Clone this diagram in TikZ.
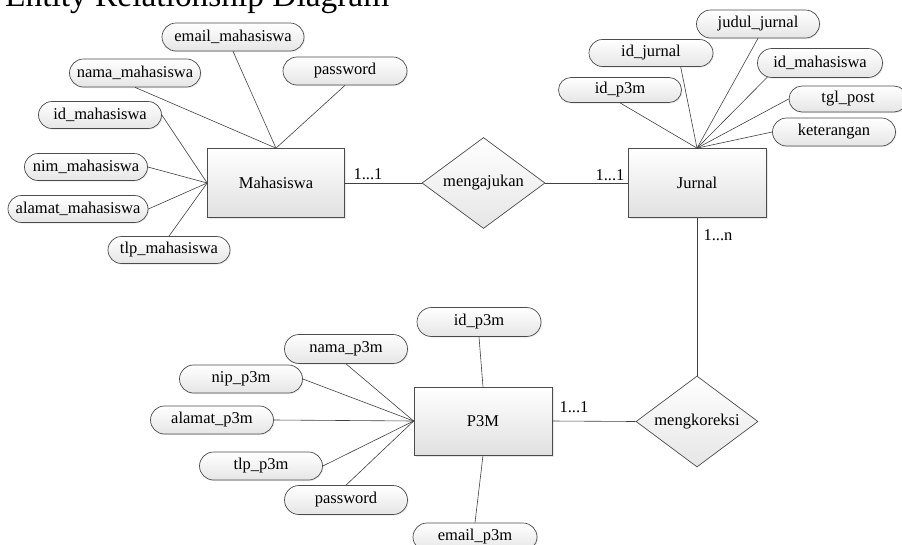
\documentclass[tikz,border=0pt]{standalone}
\usepackage{fontspec}
\setmainfont{Liberation Serif}
\usetikzlibrary{shapes.misc,shapes.geometric,shadows}
\begin{document}
\begin{tikzpicture}[x=1pt,y=-1pt,
  every node/.style={font=\fontsize{16.5}{19}\selectfont, inner sep=0pt},
  attr/.style={rounded rectangle, draw=black!70, line width=0.7pt,
    top color=white, bottom color=black!10,
    drop shadow={shadow xshift=1pt, shadow yshift=-1pt, opacity=0.18},
    minimum width=123pt, minimum height=28pt},
  entity/.style={rectangle, draw=black!70, line width=0.7pt,
    top color=white, bottom color=black!12,
    drop shadow={shadow xshift=1.5pt, shadow yshift=-1.5pt, opacity=0.18},
    minimum width=138pt, minimum height=69pt},
  rel/.style={diamond, draw=black!70, line width=0.7pt, shape aspect=1.35,
    top color=white, bottom color=black!10,
    minimum width=123pt, minimum height=91pt},
  conn/.style={draw=black!75, line width=0.6pt},
  card/.style={anchor=base}
]
\useasboundingbox (0,0) rectangle (902,544);

% title
\node[anchor=base west, font=\fontsize{33.4}{38}\selectfont] (title) at (5,6) {Entity Relationship Diagram};

% entities
\node[entity, minimum width=137pt] (M) at (276,183) {Mahasiswa};
\node[entity] (J) at (697,183) {Jurnal};
\node[entity, minimum height=68pt] (P) at (483,421) {P3M};

% relationships
\node[rel] (aju) at (483.5,183) {mengajukan};
\node[rel, minimum width=122pt] (kor) at (697,421.5) {mengkoreksi};

% Mahasiswa attributes
\node[attr, minimum width=142pt] (em) at (233,37) {email\_mahasiswa};
\node[attr, minimum width=131pt] (nm) at (135,73) {nama\_mahasiswa};
\node[attr, minimum width=124pt] (pw1) at (345,71) {password};
\node[attr, minimum height=27pt] (idm) at (100,115) {id\_mahasiswa};
\node[attr, minimum height=27pt] (nim) at (86,167) {nim\_mahasiswa};
\node[attr, minimum width=140pt, minimum height=27pt] (alm) at (78,209) {alamat\_mahasiswa};
\node[attr, minimum width=122pt, minimum height=27pt] (tlm) at (169,250) {tlp\_mahasiswa};

% Jurnal attributes
\node[attr] (jud) at (758,24) {judul\_jurnal};
\node[attr, minimum width=124pt, minimum height=27pt] (idj) at (651,53) {id\_jurnal};
\node[attr, minimum width=125pt, minimum height=29pt] (idmj) at (820,63) {id\_mahasiswa};
\node[attr, minimum height=25pt] (idp) at (620,90) {id\_p3m};
\node[attr, minimum width=118pt, minimum height=26pt] (tgl) at (848,99) {tgl\_post};
\node[attr] (ket) at (834,132) {keterangan};

% P3M attributes
\node[attr, minimum width=124pt, minimum height=29pt] (idp3) at (479,322) {id\_p3m};
\node[attr, minimum height=29pt] (nmp) at (346,349) {nama\_p3m};
\node[attr] (nip) at (241,379) {nip\_p3m};
\node[attr] (alp) at (212,420) {alamat\_p3m};
\node[attr] (tlp) at (261,466) {tlp\_p3m};
\node[attr, minimum height=29pt] (pw2) at (346,500) {password};
\node[attr, minimum width=124pt] (emp) at (475,537) {email\_p3m};

% attribute connectors
\draw[conn] (em.south) -- (M.north);
\draw[conn] (nm.south) -- (M.north);
\draw[conn] (pw1.south) -- (M.north);
\draw[conn] (idm.east) -- (M.west);
\draw[conn] (nim.east) -- (M.west);
\draw[conn] (alm.east) -- (M.west);
\draw[conn] (tlm.north) -- (M.west);

\draw[conn] (idp.south) -- (J.north);
\draw[conn] (idj.-25) -- (J.north);
\draw[conn] (jud.south) -- (J.north);
\draw[conn] (idmj.195) -- (J.north);
\draw[conn] (tgl.west) -- (J.north);
\draw[conn] (ket.west) -- (J.north);

\draw[conn] (idp3.south) -- (P.north);
\draw[conn] (nmp.south) -- (P.west);
\draw[conn] (nip.east) -- (P.west);
\draw[conn] (alp.east) -- (P.west);
\draw[conn] (tlp.east) -- (P.west);
\draw[conn] (pw2.north) -- (P.west);
\draw[conn] (emp.north) -- (P.south);

% relationship connectors
\draw[conn] (M.east) -- (aju.west);
\draw[conn] (aju.east) -- (J.west);
\draw[conn] (J.south) -- (kor.north);
\draw[conn] (P.east) -- (kor.west);

% cardinalities
\node[card] (c1) at (368,179) {1...1};
\node[card] (c2) at (610,180) {1...1};
\node[card] (c3) at (718,240) {1...n};
\node[card] (c4) at (574,412) {1...1};
\end{tikzpicture}
\end{document}
